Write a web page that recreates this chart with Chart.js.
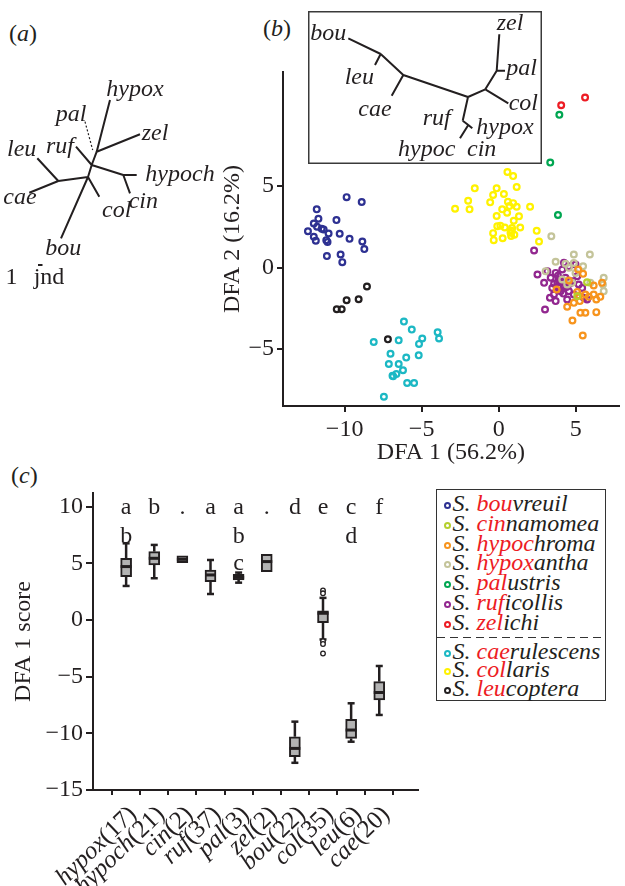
<!DOCTYPE html>
<html>
<head>
<meta charset="utf-8">
<title>DFA scores</title>
<script src="https://cdn.jsdelivr.net/npm/chart.js@4.4.1/dist/chart.umd.min.js"></script>
<style>
  html, body { margin: 0; padding: 0; background: #fff; }
  body { position: relative; width: 625px; height: 886px; overflow: hidden;
         font-family: "Liberation Serif", "Times New Roman", serif; color: #231f20; }
  canvas, .tag, #legend { position: absolute; }
  .tag { font-size: 24px; line-height: 1; white-space: nowrap; }
  #legend { left: 436px; top: 489px; width: 168px; border: 1.5px solid #333;
            padding: 4px 0 3px 0; font-size: 24px; font-style: italic; }
  #legend .row { height: 19.8px; line-height: 19.8px; white-space: nowrap; padding-left: 7px; }
  #legend .low .row { height: 18.4px; line-height: 18.4px; }
  #legend .dot { display: inline-block; width: 3px; height: 3px; border: 2px solid;
                 border-radius: 50%; vertical-align: middle; margin-right: 1.5px; }
  #legend .sep { height: 1.5px; margin: 4px 0 4px 0;
                 background: repeating-linear-gradient(90deg, #333 0 8px, transparent 8px 13px); }
  #legend .red { color: #ed1c24; }
</style>
</head>
<body>
<div class="tag" style="left:9px;top:21px">(<i>a</i>)</div>
<div class="tag" style="left:263px;top:16px">(<i>b</i>)</div>
<div class="tag" style="left:11px;top:463px">(<i>c</i>)</div>

<canvas id="tree-a" width="260" height="300" style="left:0;top:0"></canvas>
<canvas id="dfa-scatter" width="425" height="480" style="left:200px;top:0"></canvas>
<canvas id="tree-b" width="234" height="153" style="left:308px;top:11px"></canvas>
<canvas id="dfa-box" width="430" height="446" style="left:0;top:440px"></canvas>
<div id="legend"></div>

<script>
const ink = '#231f20';
const serif = '"Liberation Serif", "Times New Roman", serif';
const fontPx = 24;

// ---- panel (a): unrooted tree, branch ends in tree units (origin at central node)
const treeABranches = [
  [8.7, 25.3, 22, 77], [8.7, 25.3, 52, 42.7], [8.7, 25.3, 3.7, 12],
  [3.7, 12, -12, 30.3], [3.7, 12, 35.3, 2], [35.3, 2, 48.7, 2], [35.3, 2, 42, -16.3],
  [3.7, 12, 0, 0], [0, 0, 11.3, -19.7], [0, 0, -27, -61.3], [0, 0, -29.7, -4],
  [-29.7, -4, -50.7, 18.7], [-29.7, -4, -58.7, -15.7],
  [-50, -88, -45.5, -88]
];
const treeADotted = [[-3, 55.3, 4.7, 27]];
const treeALabels = [
  ['hypox', 47, 87.7], ['pal', -17, 62], ['zel', 67, 43.7], ['leu', -66.3, 27],
  ['ruf', -28, 30.3], ['hypoch', 92, 2], ['cin', 55.3, -24.7], ['cae', -68, -20.3],
  ['col', 28.7, -33.7], ['bou', -24.7, -71.3], ['1', -76.5, -101, true], ['jnd', -39, -101, true]
];

// ---- panel (b) inset tree
const treeBBranches = [
  [-119.7, 58.7, -87.3, 43], [-87.3, 43, -93, 32], [-87.3, 43, -64.7, 22],
  [-64.7, 22, -76.3, 1.3], [-64.7, 22, 0, 0], [0, 0, -5.3, -23.7],
  [-5.3, -23.7, 0.3, -28], [0.3, -28, 4.3, -31.3], [0.3, -28, -8, -41.3],
  [0, 0, 17.3, 7.7], [17.3, 7.7, 40.3, -6.3], [17.3, 7.7, 28.7, 26.3],
  [28.7, 26.3, 37, 26.3], [28.7, 26.3, 31.3, 62.7]
];
const treeBLabels = [
  ['bou', -139.7, 63.7], ['leu', -108.7, 19.7], ['cae', -93, -13], ['ruf', -31.3, -22],
  ['hypox', 37, -30.3], ['hypoc', -41.3, -53], ['cin', 13.7, -53], ['col', 55.3, -6.3],
  ['pal', 53.7, 28.7], ['zel', 42, 73]
];

// ---- panel (b) DFA scores [DFA1, DFA2]
const bouvreuil = [[-9.87,4.32],[-8.89,4.02],[-11.81,3.57],[-11.7,2.99],[-10.53,2.91],[-12.0,2.7],
  [-12.38,2.23],[-11.49,2.38],[-11.79,2.5],[-11.04,2.09],[-10.32,2.07],[-9.68,1.76],[-8.85,1.6],
  [-8.72,1.13],[-12.0,1.89],[-11.87,1.64],[-11.19,1.68],[-11.11,1.56],[-11.15,0.7],[-10.26,0.8],
  [-10.15,0.33],[-11.36,2.34]];
const leucoptera = [[-8.55,-1.17],[-9.09,-1.95],[-9.87,-2.01],[-10.51,-2.56],[-10.19,-2.56],[-7.19,-4.41]];
const caerulescens = [[-6.15,-3.32],[-5.64,-3.81],[-8.11,-4.57],[-6.49,-4.47],[-4.96,-4.36],[-5.17,-4.69],
  [-3.96,-3.98],[-3.87,-4.36],[-7.02,-5.29],[-5.19,-5.39],[-6.0,-5.53],[-7.13,-5.92],[-6.49,-5.92],
  [-6.21,-6.31],[-6.89,-6.64],[-6.64,-6.54],[-5.94,-7.09],[-5.49,-7.09],[-7.45,-7.93],[-6.85,-6.68]];
const collaris = [[0.57,5.86],[0.94,5.61],[-1.55,4.86],[-0.13,4.86],[1.17,4.94],[0.34,4.51],[-0.36,4.45],
  [-1.98,4.1],[-0.55,4.0],[0.6,4.04],[0.94,3.95],[-2.83,3.61],[-1.89,3.57],[0.23,3.57],[1.17,3.73],
  [2.04,3.73],[0.55,3.36],[-0.13,3.16],[1.32,3.14],[0.98,2.87],[0.11,2.56],[0.4,2.46],[0.87,2.42],
  [1.4,2.46],[2.47,2.25],[-0.36,2.11],[0.77,2.13],[1.02,2.01],[2.62,1.6],[-0.32,1.68],[0.26,1.8],
  [0.81,1.93],[-0.09,2.54],[0.85,2.25],[0.7,3.77]];
const palustris = [[3.35,6.44],[3.85,3.22],[3.94,9.37]];
const zelichi = [[4.06,9.96],[5.61,10.43]];
const ruficollis = [[2.3,1.04],[2.52,-0.43],[2.95,-0.94],[3.48,-1.25],[3.33,-1.86],[3.7,-2.06],[3.01,-2.58],
  [3.91,-0.74],[4.24,-1.14],[4.56,-1.45],[4.88,-1.66],[4.45,-1.96],[3.38,-0.63],[3.7,-0.33],[4.13,-0.12],
  [4.56,0.08],[5.1,-0.53],[5.2,-1.04],[5.53,-1.86],[5.74,-1.96],[4.02,-1.45],[3.81,-0.94],[4.77,-0.84],
  [4.34,-0.63],[3.16,-0.23],[3.59,-1.66],[5.42,-1.25],[4.99,0.18],[4.24,0.29],[3.9,-1.1],[4.1,-0.9],
  [3.6,-1.0],[4.4,-1.2],[3.85,-0.5],[4.6,-1.0],[3.9,-1.25],[4.2,-1.6]];
const hypoxantha = [[3.42,1.92],[4.88,0.8],[5.92,0.8],[3.7,0.35],[4.34,0.23],[4.88,0.27],[5.48,0.08],
  [3.05,-0.23],[4.13,-0.74],[4.45,-1.04],[6.82,-0.63],[6.77,-1.04],[6.82,-1.45],[4.56,-0.02],
  [4.99,-0.33],[5.95,-0.94],[4.77,-0.94]];
const hypochroma = [[5.16,-0.12],[5.48,-0.39],[4.56,-0.8],[3.76,-1.35],[6.17,-1.1],[6.71,-0.94],[5.1,-1.51],
  [5.85,-1.8],[6.17,-1.66],[6.6,-1.8],[6.34,-1.96],[5.27,-2.06],[4.88,-2.17],[4.45,-2.41],[5.31,-2.78],
  [5.63,-2.78],[6.34,-2.74],[4.79,-3.25],[5.46,-4.17],[5.63,-1.66],[5.2,-1.72]];
const cinnamomea = [[5.74,-0.9],[5.1,-1.76]];

const species = [
  { name: ['bou', 'vreuil'], color: '#2e3192', pts: bouvreuil },
  { name: ['cin', 'namomea'], color: '#b5cf2e', pts: cinnamomea },
  { name: ['hypoc', 'hroma'], color: '#f7941d', pts: hypochroma },
  { name: ['hypox', 'antha'], color: '#c4c49a', pts: hypoxantha },
  { name: ['pal', 'ustris'], color: '#00a651', pts: palustris },
  { name: ['ruf', 'icollis'], color: '#92278f', pts: ruficollis },
  { name: ['zel', 'ichi'], color: '#ed1c24', pts: zelichi },
  { name: ['cae', 'rulescens'], color: '#1cb8c4', pts: caerulescens },
  { name: ['col', 'laris'], color: '#fff200', pts: collaris },
  { name: ['leu', 'coptera'], color: '#231f20', pts: leucoptera }
];
const scatterXTicks = [-10, -5, 0, 5];
const scatterYTicks = [-5, 0, 5];

// ---- panel (c) DFA 1 box plots
const boxCodes = ['hypox', 'hypoch', 'cin', 'ruf', 'pal', 'zel', 'bou', 'col', 'leu', 'cae'];
const boxN = [17, 21, 2, 37, 3, 2, 22, 35, 6, 20];
const boxQ1 = [3.82, 4.85, 5.06, 3.38, 3.53, 4.26, -12.06, -0.24, -10.45, -7.06];
const boxQ3 = [5.44, 6.03, 5.65, 4.41, 4.03, 5.79, -10.3, 0.8, -8.77, -5.44];
const boxMed = [4.71, 5.44, 5.35, 3.97, 3.76, 5.15, -11.33, 0.59, -9.71, -6.4];
const boxLo = [3.0, 3.68, null, 2.29, 3.29, null, -12.6, -1.72, -10.74, -8.38];
const boxHi = [6.76, 6.62, null, 5.29, 4.18, null, -8.97, 1.95, -7.35, -4.06];
const colOutliers = [2.6, 2.35, -1.88, -2.12, -2.96];
const groupLetters = [['a', 'b'], ['b'], ['.'], ['a'], ['a', 'b', 'c'], ['.'], ['d'], ['e'], ['c', 'd'], ['f']];
const letterRows = [9.35, 6.8, 4.4];
const boxYTicks = [-15, -10, -5, 0, 5, 10];

Chart.defaults.font.family = serif;
Chart.defaults.font.size = fontPx;
Chart.defaults.color = ink;
Chart.defaults.animation = false;
Chart.defaults.plugins.legend.display = false;
Chart.defaults.plugins.tooltip.enabled = false;

const minus = v => String(v).replace('-', '\u2212');

function segments(list) {
  const pts = [];
  list.forEach(s => pts.push({x: s[0], y: s[1]}, {x: s[2], y: s[3]}, {x: NaN, y: NaN}));
  return pts;
}

const treeText = {
  id: 'treeText',
  beforeDraw(chart, args, opts) {
    if (!opts.frame) return;
    const ctx = chart.ctx;
    ctx.save();
    ctx.fillStyle = '#fff';
    ctx.fillRect(0, 0, chart.width, chart.height);
    ctx.strokeStyle = '#3a3a3a';
    ctx.lineWidth = 1.5;
    ctx.strokeRect(0.75, 0.75, chart.width - 1.5, chart.height - 1.5);
    ctx.restore();
  },
  afterDatasetsDraw(chart, args, opts) {
    const {ctx, scales: {x, y}} = chart;
    ctx.save();
    ctx.fillStyle = ink;
    ctx.textAlign = 'center';
    ctx.textBaseline = 'middle';
    opts.labels.forEach(l => {
      ctx.font = (l[3] ? '' : 'italic ') + fontPx + 'px ' + serif;
      ctx.fillText(l[0], x.getPixelForValue(l[1]), y.getPixelForValue(l[2]));
    });
    ctx.restore();
  }
};

function drawTree(id, solid, dotted, labels, extent, frame) {
  return new Chart(document.getElementById(id), {
    type: 'scatter',
    data: {
      datasets: [
        { data: segments(solid), showLine: true, borderColor: ink, borderWidth: 2, pointRadius: 0 },
        { data: segments(dotted), showLine: true, borderColor: ink, borderWidth: 1.2,
          borderDash: [2, 2], pointRadius: 0 }
      ]
    },
    options: {
      responsive: false,
      layout: { padding: 0 },
      scales: {
        x: { display: false, min: extent[0], max: extent[1] },
        y: { display: false, min: extent[2], max: extent[3] }
      },
      plugins: { treeText: { labels: labels, frame: frame } }
    },
    plugins: [treeText]
  });
}

drawTree('tree-a', treeABranches, treeADotted, treeALabels, [-88, 172, -123, 177], false);

// scatter
new Chart(document.getElementById('dfa-scatter'), {
  type: 'scatter',
  data: {
    datasets: species.map(s => ({
      data: s.pts.map(p => ({x: p[0], y: p[1]})),
      borderColor: s.color,
      backgroundColor: 'rgba(0,0,0,0)',
      pointRadius: 2.9,
      borderWidth: 2.2
    }))
  },
  options: {
    responsive: false,
    layout: { padding: { top: 72, right: 3 } },
    scales: {
      x: {
        min: -14, max: 7.8,
        afterFit: s => { s.height = 74; },
        afterBuildTicks: s => { s.ticks = scatterXTicks.map(v => ({value: v})); },
        border: { display: true, color: ink, width: 2 },
        grid: { drawOnChartArea: false, drawTicks: true, tickLength: 6, color: ink, lineWidth: 2 },
        ticks: { padding: 3, callback: minus, maxRotation: 0 },
        title: { display: true, text: 'DFA 1 (56.2%)', padding: { top: 0, bottom: 13 } }
      },
      y: {
        min: -8.5, max: 12,
        afterFit: s => { s.width = 83; },
        afterBuildTicks: s => { s.ticks = scatterYTicks.map(v => ({value: v})); },
        border: { display: true, color: ink, width: 2 },
        grid: { drawOnChartArea: false, drawTicks: true, tickLength: 6, color: ink, lineWidth: 2 },
        ticks: { padding: 3, callback: minus },
        title: { display: true, text: 'DFA 2 (16.2%)', padding: { top: 18, bottom: 0 } }
      }
    }
  }
});

drawTree('tree-b', treeBBranches, [], treeBLabels, [-160, 74, -67, 86], true);

// box plot
const boxParts = {
  id: 'boxParts',
  beforeDatasetsDraw(chart) {
    const {ctx, scales: {x, y}} = chart;
    ctx.save();
    ctx.strokeStyle = ink;
    ctx.lineWidth = 2.5;
    boxCodes.forEach((c, i) => {
      if (boxLo[i] === null) return;
      const px = x.getPixelForValue(i);
      [[boxLo[i], boxQ1[i]], [boxQ3[i], boxHi[i]]].forEach(([a, b]) => {
        ctx.beginPath();
        ctx.moveTo(px, y.getPixelForValue(a));
        ctx.lineTo(px, y.getPixelForValue(b));
        ctx.stroke();
      });
      [boxLo[i], boxHi[i]].forEach(v => {
        ctx.beginPath();
        ctx.moveTo(px - 3.5, y.getPixelForValue(v));
        ctx.lineTo(px + 3.5, y.getPixelForValue(v));
        ctx.stroke();
      });
    });
    ctx.restore();
  },
  afterDatasetsDraw(chart) {
    const {ctx, scales: {x, y}} = chart;
    ctx.save();
    ctx.strokeStyle = ink;
    ctx.lineWidth = 3;
    boxCodes.forEach((c, i) => {
      const px = x.getPixelForValue(i), py = y.getPixelForValue(boxMed[i]);
      ctx.beginPath();
      ctx.moveTo(px - 5.5, py);
      ctx.lineTo(px + 5.5, py);
      ctx.stroke();
    });
    ctx.fillStyle = ink;
    ctx.textAlign = 'center';
    ctx.textBaseline = 'alphabetic';
    ctx.font = fontPx + 'px ' + serif;
    groupLetters.forEach((ls, i) => {
      ls.forEach((l, r) => ctx.fillText(l, x.getPixelForValue(i), y.getPixelForValue(letterRows[r])));
    });
    // rotated category labels: italic code + upright sample size
    const lab = 25;
    const base = y.bottom + 21;
    ctx.textBaseline = 'middle';
    ctx.textAlign = 'left';
    boxCodes.forEach((c, i) => {
      const n = '(' + boxN[i] + ')';
      ctx.font = lab + 'px ' + serif;
      const wn = ctx.measureText(n).width;
      ctx.font = 'italic ' + lab + 'px ' + serif;
      const wc = ctx.measureText(c).width;
      ctx.save();
      ctx.translate(x.getPixelForValue(i) + 7, base);
      ctx.rotate(-44 * Math.PI / 180);
      ctx.fillText(c, -wn - wc, 0);
      ctx.font = lab + 'px ' + serif;
      ctx.fillText(n, -wn, 0);
      ctx.restore();
    });
    ctx.restore();
  }
};

new Chart(document.getElementById('dfa-box'), {
  type: 'bar',
  data: {
    datasets: [
      {
        type: 'scatter',
        data: colOutliers.map(v => ({x: boxCodes.indexOf('col'), y: v})),
        pointRadius: 2.3,
        borderWidth: 1.3,
        borderColor: ink,
        backgroundColor: '#fff'
      },
      {
        data: boxCodes.map((c, i) => ({x: i, y: [boxQ1[i], boxQ3[i]]})),
        backgroundColor: '#b3b3b3',
        borderColor: ink,
        borderWidth: 2,
        borderSkipped: false,
        barThickness: 11
      }
    ]
  },
  options: {
    responsive: false,
    layout: { padding: { top: 53, right: 12 } },
    scales: {
      x: {
        type: 'linear', min: -0.6, max: 9.8,
        afterFit: s => { s.height = 96; },
        afterBuildTicks: s => { s.ticks = boxCodes.map((c, i) => ({value: i})); },
        border: { display: true, color: ink, width: 2 },
        grid: { drawOnChartArea: false, drawTicks: true, tickLength: 5, color: ink, lineWidth: 2 },
        ticks: { callback: () => '' }
      },
      y: {
        min: -15, max: 11.2,
        afterFit: s => { s.width = 93; },
        afterBuildTicks: s => { s.ticks = boxYTicks.map(v => ({value: v})); },
        border: { display: true, color: ink, width: 2 },
        grid: { drawOnChartArea: false, drawTicks: true, tickLength: 7, color: ink, lineWidth: 2 },
        ticks: { padding: 3, callback: minus },
        title: { display: true, text: 'DFA 1 score', padding: { top: 9, bottom: 0 } }
      }
    }
  },
  plugins: [boxParts]
});

// legend: red part is the code used in panels (a)-(c)
const legend = document.getElementById('legend');
function legendRow(s) {
  return `<div class="row"><span class="dot" style="border-color:${s.color}"></span>S. ` +
         `<span class="red">${s.name[0]}</span>${s.name[1]}</div>`;
}
legend.innerHTML = species.slice(0, 7).map(legendRow).join('') +
  '<div class="sep"></div><div class="low">' + species.slice(7).map(legendRow).join('') + '</div>';
</script>
</body>
</html>
